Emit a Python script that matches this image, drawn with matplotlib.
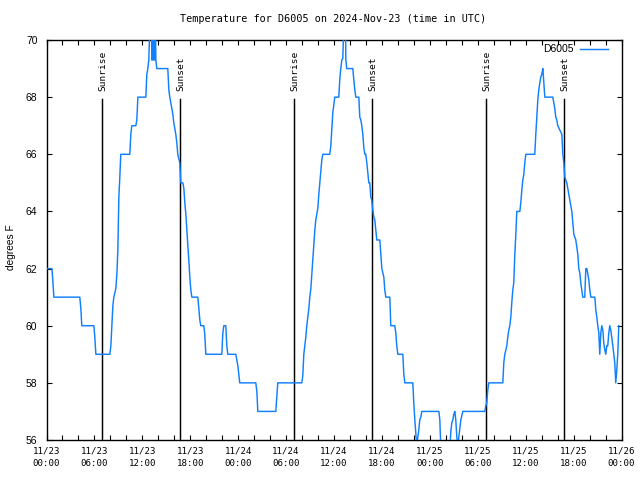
import matplotlib
matplotlib.use("Agg")
import matplotlib.pyplot as plt
import matplotlib.transforms as mtransforms
from matplotlib.ticker import MultipleLocator, FixedLocator

# ---------------- data (hours since 2024-11-23 00:00 UTC) ----------------
hours = [
    0.0, 0.67, 0.79, 0.92, 4.17, 4.3, 4.42, 5.93, 6.05, 6.18, 7.93, 8.06, 8.18, 8.31, 8.43, 8.68, 8.81, 8.93,
    9.06, 9.18, 9.3, 10.43, 10.56, 10.68, 11.19, 11.31, 11.44, 12.44, 12.56, 12.69, 12.81, 12.94, 13.15, 13.19,
    13.28, 13.31, 13.4, 13.44, 13.53, 13.56, 13.65, 13.69, 13.81, 15.19, 15.32, 15.44, 15.82, 15.94, 16.07,
    16.19, 16.32, 16.44, 16.69, 16.82, 17.07, 17.2, 17.32, 17.45, 17.57, 17.7, 17.82, 17.95, 18.07, 18.2,
    18.95, 19.07, 19.2, 19.32, 19.7, 19.82, 19.95, 21.95, 22.08, 22.2, 22.45, 22.58, 22.7, 23.71, 23.83,
    23.96, 24.08, 24.2, 26.21, 26.34, 26.46, 28.71, 28.84, 28.96, 31.97, 32.09, 32.22, 32.34, 32.47, 32.59,
    32.72, 32.85, 32.97, 33.1, 33.22, 33.35, 33.47, 33.6, 33.72, 33.85, 33.97, 34.1, 34.22, 34.35, 34.47,
    34.6, 35.47, 35.6, 35.72, 35.85, 35.97, 36.1, 36.6, 36.72, 36.85, 36.98, 37.1, 37.23, 37.45, 37.48,
    37.6, 38.36, 38.48, 38.61, 38.73, 39.11, 39.23, 39.36, 39.48, 39.61, 39.73, 39.86, 39.98, 40.11, 40.23,
    40.36, 40.48, 40.61, 40.73, 40.86, 40.99, 41.11, 41.24, 41.36, 41.74, 41.86, 41.99, 42.24, 42.36, 42.49,
    42.99, 43.11, 43.61, 43.74, 43.86, 43.99, 44.62, 44.74, 44.87, 45.87, 45.99, 46.12, 46.24, 46.37, 46.49,
    46.62, 46.74, 46.87, 46.99, 49.13, 49.25, 49.38, 50.5, 50.63, 50.75, 50.88, 51.0, 51.13, 51.25, 51.38,
    51.5, 51.63, 51.75, 51.88, 52.0, 52.13, 54.88, 55.01, 55.13, 55.26, 55.38, 57.14, 57.26, 57.39, 57.64,
    57.76, 57.89, 58.01, 58.14, 58.26, 58.39, 58.51, 58.64, 58.77, 58.89, 59.27, 59.39, 59.52, 59.64, 59.77,
    59.89, 60.02, 61.14, 61.27, 61.39, 61.52, 61.64, 61.77, 61.89, 62.02, 62.15, 62.27, 62.4, 63.4, 63.52,
    63.65, 63.77, 63.9, 64.02, 64.27, 64.53, 64.65, 64.78, 64.9, 65.15, 65.4, 65.53, 65.65, 65.78, 65.9,
    66.03, 66.28, 66.4, 66.53, 66.65, 66.78, 66.9, 67.03, 67.15, 67.4, 67.53, 67.66, 67.78, 67.91, 68.03,
    68.16, 68.66, 68.78, 68.91, 69.03, 69.16, 69.28, 69.41, 69.53, 69.66, 69.78, 69.91, 70.03, 70.16, 70.28,
    70.41, 70.53, 70.66, 70.78, 70.91, 71.03, 71.16, 71.28, 71.41, 71.53, 71.66,
]
temps_f = [
    62.0, 62.0, 61.6, 61.0, 61.0, 60.6, 60.0, 60.0, 59.6, 59.0, 59.0, 59.3, 60.0, 60.7, 61.0, 61.3, 61.8, 62.6,
    64.5, 65.2, 66.0, 66.0, 66.7, 67.0, 67.0, 67.2, 68.0, 68.0, 68.8, 69.0, 69.3, 70.5, 70.5, 69.3,
    69.3, 70.5, 70.5, 69.3, 69.3, 70.5, 70.5, 69.3, 69.0, 69.0, 68.25, 68.0, 67.4, 67.1, 66.9,
    66.7, 66.4, 66.0, 65.7, 65.0, 65.0, 64.8, 64.3, 63.9, 63.35, 62.8, 62.3, 61.7, 61.25, 61.0,
    61.0, 60.6, 60.2, 60.0, 60.0, 59.7, 59.0, 59.0, 59.75, 60.0, 60.0, 59.3, 59.0, 59.0, 58.8,
    58.6, 58.3, 58.0, 58.0, 57.7, 57.0, 57.0, 57.5, 58.0, 58.0, 58.25, 59.0, 59.3, 59.6, 60.0,
    60.3, 60.6, 61.0, 61.3, 61.8, 62.3, 62.8, 63.35, 63.7, 63.9, 64.1, 64.6, 65.0, 65.45, 65.8,
    66.0, 66.0, 66.3, 66.85, 67.45, 67.7, 68.0, 68.0, 68.6, 69.0, 69.3, 69.35, 70.5, 70.5, 69.3,
    69.0, 69.0, 68.6, 68.25, 68.0, 68.0, 67.3, 67.2, 67.0, 66.7, 66.25, 66.0, 66.0, 65.7, 65.35,
    65.0, 65.0, 64.5, 64.4, 64.05, 63.8, 63.7, 63.35, 63.0, 63.0, 62.5, 62.0, 61.7, 61.25, 61.0,
    61.0, 60.0, 60.0, 59.75, 59.3, 59.0, 59.0, 58.3, 58.0, 58.0, 57.3, 56.7, 56.25, 55.7, 56.1,
    56.35, 56.7, 56.8, 57.0, 57.0, 56.7, 55.7, 55.7, 56.3, 56.6, 56.7, 56.9, 57.0, 56.7, 56.1,
    55.8, 56.1, 56.35, 56.7, 56.85, 57.0, 57.0, 57.2, 57.3, 57.75, 58.0, 58.0, 58.7, 59.0, 59.3,
    59.6, 59.85, 60.0, 60.3, 60.8, 61.25, 61.5, 62.5, 63.2, 64.0, 64.0, 64.3, 64.75, 65.1, 65.3,
    65.7, 66.0, 66.0, 66.7, 67.25, 67.9, 68.25, 68.5, 68.7, 68.8, 69.0, 68.5, 68.0, 68.0, 67.8,
    67.6, 67.3, 67.2, 67.0, 66.85, 66.7, 66.0, 65.7, 65.2, 65.0, 64.6, 64.4, 64.2, 64.0, 63.6,
    63.2, 63.0, 62.75, 62.5, 62.0, 61.85, 61.5, 61.25, 61.0, 61.0, 62.0, 62.0, 61.8, 61.6, 61.25,
    61.0, 61.0, 60.55, 60.3, 60.0, 59.75, 59.0, 59.75, 60.0, 59.85, 59.4, 59.15, 59.0, 59.3, 59.3,
    59.75, 60.0, 59.85, 59.6, 59.3, 59.0, 58.7, 58.0, 58.45, 59.0, 60.0,
]
sunrise_hours = [6.97, 30.95, 54.98]
sunset_hours = [16.68, 40.74, 64.74]
sun_line_top = 67.93
sun_label_base = 68.2

x_tick_hours = [0, 6, 12, 18, 24, 30, 36, 42, 48, 54, 60, 66, 72]
x_tick_labels = ["11/23\n00:00", "11/23\n06:00", "11/23\n12:00", "11/23\n18:00",
                 "11/24\n00:00", "11/24\n06:00", "11/24\n12:00", "11/24\n18:00",
                 "11/25\n00:00", "11/25\n06:00", "11/25\n12:00", "11/25\n18:00",
                 "11/26\n00:00"]
y_ticks = [56, 58, 60, 62, 64, 66, 68, 70]
series_name = "D6005"
title = "Temperature for D6005 on 2024-Nov-23 (time in UTC)"
y_label = "degrees F"

# ---------------- figure ----------------
MONO = "DejaVu Sans Mono"
SANS = "Liberation Sans"
fig = plt.figure(figsize=(6.4, 4.8), dpi=100)
ax = fig.add_axes([46.5 / 640, 1 - 440 / 480, (621.5 - 46.5) / 640, 400 / 480])

ax.plot(hours, temps_f, color="#1080ff", lw=1.05, label=series_name, zorder=3)

for h in sunrise_hours + sunset_hours:
    ax.plot([h, h], [56, sun_line_top], color="black", lw=1.05, zorder=2)

off = mtransforms.offset_copy(ax.transData, fig=fig, x=1.2, y=0, units="dots")
for h in sunrise_hours:
    ax.text(h, sun_label_base, "Sunrise", rotation=90, ha="center", va="bottom",
            family=MONO, fontsize=6.8, transform=off)
for h in sunset_hours:
    ax.text(h, sun_label_base, "Sunset", rotation=90, ha="center", va="bottom",
            family=MONO, fontsize=6.8, transform=off)

ax.set_xlim(0, 72)
ax.set_ylim(56, 70)
ax.xaxis.set_major_locator(FixedLocator(x_tick_hours))
ax.set_xticklabels(x_tick_labels, family=MONO, fontsize=6.6, linespacing=1.45)
ax.xaxis.set_minor_locator(MultipleLocator(2))
ax.set_yticks(y_ticks)
ax.set_yticklabels([str(v) for v in y_ticks], family=SANS, fontsize=7.5)

ax.tick_params(axis="both", which="both", direction="in", length=3.6, width=0.8,
               top=True, right=True, color="black")
ax.tick_params(axis="x", which="major", pad=5)
ax.tick_params(axis="y", which="major", pad=6.5)
for s in ax.spines.values():
    s.set_linewidth(1.0)

fig.text(333.5 / 640, 1 - 19 / 480, title, ha="center", va="center", family=MONO, fontsize=7.3)
fig.text(11 / 640, 1 - 247 / 480, y_label, ha="center", va="center", rotation=90,
         family=SANS, fontsize=7.3)

leg = ax.legend(loc="upper right", bbox_to_anchor=(613 / 640, 1 - 39 / 480),
                bbox_transform=fig.transFigure, frameon=False, markerfirst=False,
                borderpad=0, handlelength=2.7, handletextpad=0.55,
                prop={"family": SANS, "size": 7.5})

fig.savefig("out.png", dpi=100)
